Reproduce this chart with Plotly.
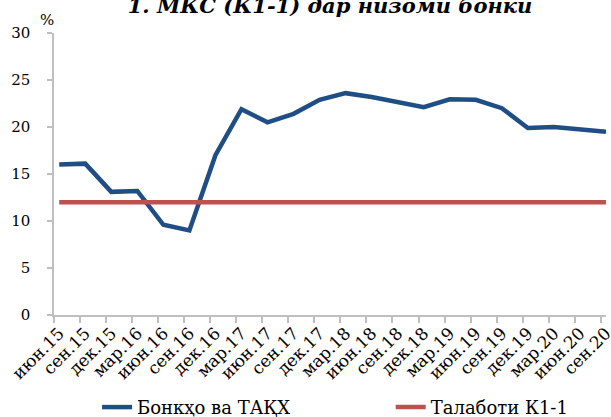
import plotly.graph_objects as go

quarters = ["июн.15", "сен.15", "дек.15", "мар.16", "июн.16", "сен.16", "дек.16",
            "мар.17", "июн.17", "сен.17", "дек.17", "мар.18", "июн.18", "сен.18",
            "дек.18", "мар.19", "июн.19", "сен.19", "дек.19", "мар.20", "июн.20", "сен.20"]
banks = [16.0, 16.1, 13.1, 13.2, 9.6, 9.0, 17.0, 21.9, 20.5, 21.4, 22.9, 23.6,
         23.2, 22.6, 22.1, 22.95, 22.9, 22.0, 19.9, 20.0, 19.7, 19.5]
requirement = [12] * len(quarters)

y_ticks = [0, 5, 10, 15, 20, 25, 30]

SERIF = "DejaVu Serif"
BLUE = "#1F4E85"
RED = "#C0504D"
AXIS = "#BFBFBF"

x = list(range(len(quarters)))
tick_offset = 0.2
minor_ticks = [i - tick_offset for i in x]

fig = go.Figure()
fig.add_trace(go.Scatter(x=x, y=banks, mode="lines", name="Бонкҳо ва ТАҚХ",
                         line=dict(color=BLUE, width=4.5), legend="legend"))
fig.add_trace(go.Scatter(x=x, y=requirement, mode="lines", name="Талаботи К1-1",
                         line=dict(color=RED, width=4.5), legend="legend2"))

legend_common = dict(orientation="h", yanchor="top", y=-0.262, xanchor="left",
                     font=dict(family=SERIF, size=18, color="#000000"),
                     bgcolor="rgba(0,0,0,0)")

fig.update_layout(
    width=611, height=417,
    margin=dict(l=54, r=5, t=33, b=102, autoexpand=False),
    paper_bgcolor="white", plot_bgcolor="white",
    font=dict(family=SERIF, color="#000000"),
    title=dict(text="<b><i>1. МКС (К1-1) дар низоми бонкӣ</i></b>",
               font=dict(family=SERIF, size=21, color="#000000"),
               xref="container", x=0.54, xanchor="center",
               yref="container", y=1 - 13 / 417, yanchor="bottom"),
    showlegend=True,
    legend=dict(x=0.078, **legend_common),
    legend2=dict(x=0.61, **legend_common),
)

fig.update_xaxes(range=[-tick_offset, len(quarters) - 1 + 0.001], tickmode="array",
                 tickvals=x, ticktext=quarters, tickangle=-45,
                 tickfont=dict(family=SERIF, size=17, color="#000000"),
                 ticks="", ticklen=6, automargin=False, ticklabeloverflow="allow",
                 minor=dict(tickmode="array", tickvals=minor_ticks, ticks="outside",
                            ticklen=6, tickcolor=AXIS, tickwidth=1.5, showgrid=False),
                 showline=True, linecolor=AXIS, linewidth=1.5,
                 showgrid=False, zeroline=False)
fig.update_yaxes(range=[0, 30], tickmode="array", tickvals=y_ticks,
                 tickfont=dict(family=SERIF, size=15, color="#000000"),
                 showline=True, linecolor=AXIS, linewidth=1.5,
                 ticks="outside", ticklen=5, tickcolor=AXIS, tickwidth=1.5,
                 ticklabelstandoff=14, automargin=False,
                 showgrid=False, zeroline=False)

fig.add_annotation(text="%", xref="paper", yref="paper", x=-0.013, y=1.046,
                   xanchor="center", yanchor="middle", showarrow=False,
                   font=dict(family=SERIF, size=15, color="#000000"))

fig.write_html("out.html", config={"displayModeBar": False},
               post_script="document.body.style.margin='0';document.body.style.overflow='hidden';")
